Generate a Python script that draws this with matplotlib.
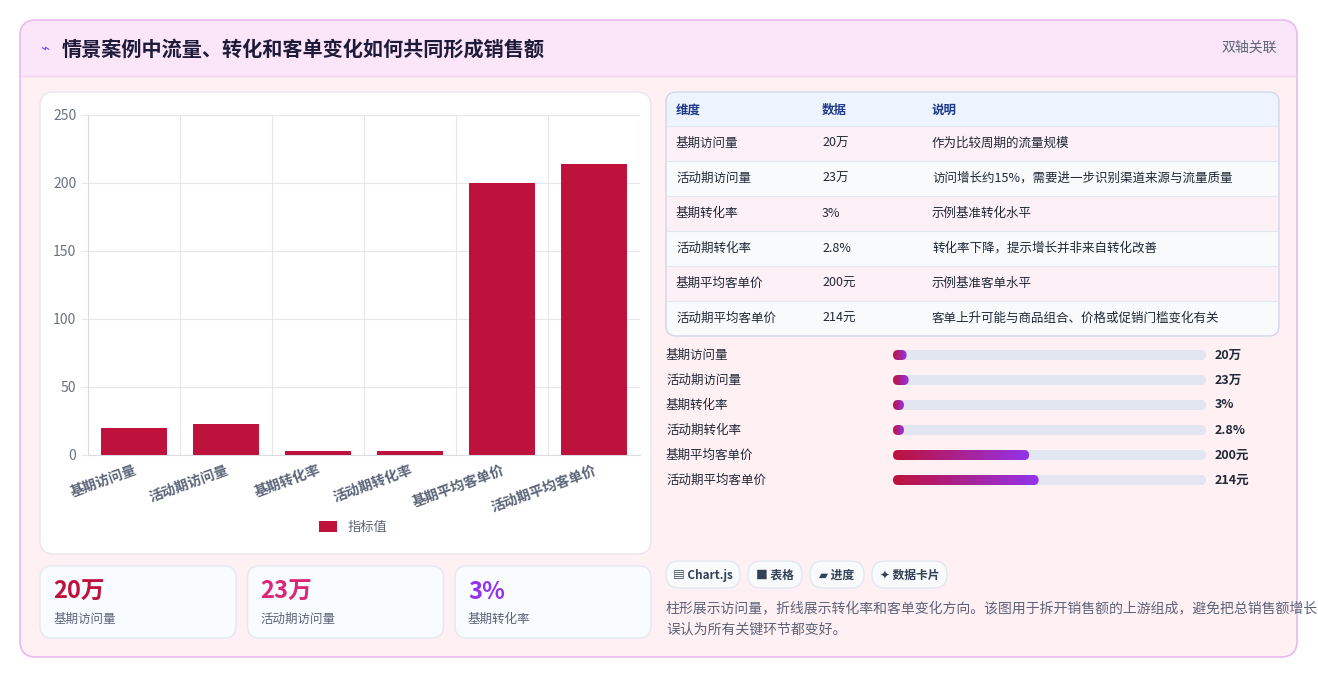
import matplotlib
matplotlib.use("Agg")
import matplotlib.pyplot as plt
from matplotlib.patches import FancyBboxPatch
import numpy as np

plt.rcParams["font.family"] = ["Noto Sans CJK SC", "DejaVu Sans"]

W, H = 1318, 678

# data
categories = ["基期访问量", "活动期访问量", "基期转化率", "活动期转化率", "基期平均客单价", "活动期平均客单价"]
values = [20, 23, 3, 2.8, 200, 214]
value_labels = ["20万", "23万", "3%", "2.8%", "200元", "214元"]
notes = ["作为比较周期的流量规模",
         "访问增长约15%，需要进一步识别渠道来源与流量质量",
         "示例基准转化水平",
         "转化率下降，提示增长并非来自转化改善",
         "示例基准客单水平",
         "客单上升可能与商品组合、价格或促销门槛变化有关"]
kpi_values = ["20万", "23万", "3%"]
kpi_labels = ["基期访问量", "活动期访问量", "基期转化率"]
kpi_colors = ["#be123c", "#db2777", "#9333ea"]
tags = ["▤ Chart.js", "■ 表格", "▰ 进度", "✦ 数据卡片"]

fig = plt.figure(figsize=(W / 100, H / 100), dpi=100)
bg = fig.add_axes([0, 0, 1, 1])
bg.set_xlim(0, W)
bg.set_ylim(H, 0)
bg.axis("off")


def box(x0, y0, x1, y1, r, fc, ec="none", lw=1, z=1, ax=bg):
    p = FancyBboxPatch((x0, y0), x1 - x0, y1 - y0,
                       boxstyle=f"round,pad=0,rounding_size={r}",
                       fc=fc, ec=ec, lw=lw, zorder=z)
    ax.add_patch(p)
    return p


# outer card
box(20, 20, 1297, 657, 16, "#fff0f4", "#e8b9ee", 1.2, z=1)
box(21, 21, 1296, 76, 15, "#fbe5f8", z=2)
bg.add_patch(plt.Rectangle((21, 60), 1275, 16, fc="#fbe5f8", ec="none", zorder=2))
bg.plot([21, 1296], [76, 76], color="#f3d3ef", lw=1, zorder=3)
bg.text(40, 49, "⌁", color="#6d5ce8", fontsize=11, va="center", zorder=4)
bg.text(62, 49, "情景案例中流量、转化和客单变化如何共同形成销售额", fontsize=14.5,
        fontweight="bold", color="#1e1b3a", va="center", zorder=4)
bg.text(1277, 48, "双轴关联", fontsize=10, color="#5b6478", ha="right", va="center", zorder=4)

# chart panel
box(40, 92, 651, 554, 14, "white", "#ebe4f0", 1, z=2)
x0, x1, y0, y1 = 88, 640, 115, 455
ax = fig.add_axes([x0 / W, 1 - y1 / H, (x1 - x0) / W, (y1 - y0) / H])
ax.set_facecolor("white")
xpos = np.arange(len(categories))
ax.bar(xpos, values, width=0.72, color="#be123c", zorder=3, label="指标值")
ax.set_xlim(-0.5, len(categories) - 0.5)
ax.set_ylim(0, 250)
ax.set_yticks(range(0, 251, 50))
ax.set_xticks(xpos)
ax.set_xticklabels(categories, rotation=20, ha="right", rotation_mode="anchor",
                   fontsize=10, color="#5b6478", fontweight="bold")
ax.set_xticks(np.arange(-0.5, len(categories), 1), minor=True)
ax.grid(True, which="minor", axis="x", color="#e5e7eb", lw=0.8)
ax.grid(True, which="major", axis="y", color="#e5e7eb", lw=0.8)
ax.tick_params(axis="x", which="both", length=0, pad=6)
ax.tick_params(axis="y", length=5, color="#e5e7eb", labelsize=10, labelcolor="#6b7280")
for s in ["top", "right"]:
    ax.spines[s].set_visible(False)
for s in ["left", "bottom"]:
    ax.spines[s].set_color("#d9dde3")
leg = ax.legend(loc="upper center", bbox_to_anchor=(0.48, -0.16), frameon=False,
                fontsize=9.5, handlelength=1.4, handleheight=0.9)
for t in leg.get_texts():
    t.set_color("#5b6478")

# KPI cards
for i, (v, l, c) in enumerate(zip(kpi_values, kpi_labels, kpi_colors)):
    cx = 40 + i * 207.5
    box(cx, 566, cx + 196, 638, 12, "#f8fbff", "#e3e8f2", 1, z=2)
    bg.text(cx + 13, 592, v, fontsize=17, fontweight="bold", color=c, va="center", zorder=4)
    bg.text(cx + 13, 619, l, fontsize=9, color="#5b6478", va="center", zorder=4)

# table
tx0, tx1 = 666, 1279
box(tx0, 92, tx1, 336, 10, "#fdf3f8", "#cfd8e8", 1, z=2)
hdr = box(tx0 + 1, 93, tx1 - 1, 126, 9, "#eef4ff", z=3)
bg.add_patch(plt.Rectangle((tx0 + 1, 112), tx1 - tx0 - 2, 14, fc="#eef4ff", ec="none", zorder=3))
cols = [676, 822, 932]
for cx, h in zip(cols, ["维度", "数据", "说明"]):
    bg.text(cx, 110, h, fontsize=9, fontweight="bold", color="#1e3a8a", va="center", zorder=4)
row_h = 35
for i, (c, vl, n) in enumerate(zip(categories, value_labels, notes)):
    ry = 126 + i * row_h
    fc = "#fdf0f7" if i % 2 == 0 else "#f8fafc"
    if i < len(categories) - 1:
        bg.add_patch(plt.Rectangle((tx0 + 1, ry), tx1 - tx0 - 2, row_h, fc=fc, ec="none", zorder=3))
    else:
        box(tx0 + 1, ry, tx1 - 1, ry + row_h - 1, 9, fc, z=3)
        bg.add_patch(plt.Rectangle((tx0 + 1, ry), tx1 - tx0 - 2, 12, fc=fc, ec="none", zorder=3))
    bg.plot([tx0 + 1, tx1 - 1], [ry, ry], color="#e2e8f0", lw=0.8, zorder=4)
    for cx, t in zip(cols, [c, vl, n]):
        bg.text(cx, ry + row_h / 2, t, fontsize=9, color="#1f2937", va="center", zorder=4)

# progress bars
grad = np.linspace(0, 1, 256).reshape(1, -1)
cmap = matplotlib.colors.LinearSegmentedColormap.from_list("g", ["#be123c", "#9333ea"])
bx0, bx1 = 893, 1206
for i, (c, v, vl) in enumerate(zip(categories, values, value_labels)):
    yy = 355 + i * 25
    bg.text(666, yy, c, fontsize=9, color="#1f2937", va="center", zorder=4)
    box(bx0, yy - 5, bx1, yy + 5, 5, "#e2e6f0", z=3)
    fw = max(v / 460, 0.035) * (bx1 - bx0)
    clip = box(bx0, yy - 5, bx0 + fw, yy + 5, 5, "none", z=4)
    im = bg.imshow(grad, cmap=cmap, extent=(bx0, bx0 + fw, yy + 5, yy - 5),
                   aspect="auto", zorder=4)
    im.set_clip_path(clip)
    bg.text(1215, yy, vl, fontsize=9, fontweight="bold", color="#1f2937", va="center", zorder=4)
bg.set_xlim(0, W)
bg.set_ylim(H, 0)

# tags
tx = 666
for t in tags:
    w = 12 + len(t) * 10.5 if not t.startswith("▤") else 74
    box(tx, 561, tx + w, 588, 13, "#f8fafc", "#e2e8f0", 1, z=3)
    bg.text(tx + w / 2, 575, t, fontsize=8.5, fontweight="bold", color="#334155",
            ha="center", va="center", zorder=4, family=["DejaVu Sans", "Noto Sans CJK SC"]
            if False else ["Noto Sans CJK SC", "DejaVu Sans"])
    tx += w + 8

bg.text(666, 609, "柱形展示访问量，折线展示转化率和客单变化方向。该图用于拆开销售额的上游组成，避免把总销售额增长",
        fontsize=10, color="#5b6478", va="center", zorder=4)
bg.text(666, 630, "误认为所有关键环节都变好。", fontsize=10, color="#5b6478", va="center", zorder=4)

fig.savefig("out.png", dpi=100, facecolor="white")
